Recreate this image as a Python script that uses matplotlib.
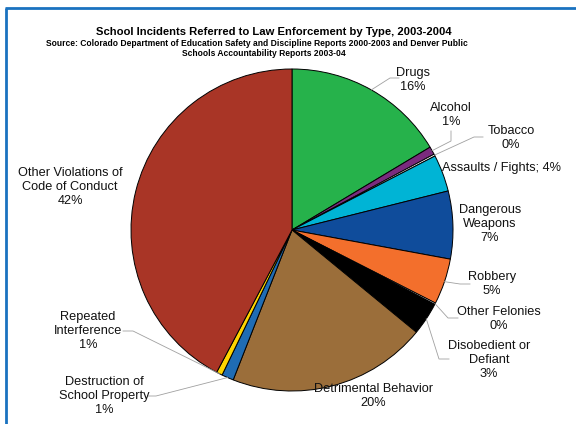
import numpy as np
import matplotlib
matplotlib.use('Agg')
import matplotlib.pyplot as plt

plt.rcParams['font.family'] = ['Liberation Sans', 'DejaVu Sans']

categories = ['Drugs', 'Alcohol', 'Tobacco', 'Assaults / Fights', 'Dangerous\nWeapons',
              'Robbery', 'Other Felonies', 'Disobedient or\nDefiant', 'Detrimental Behavior',
              'Destruction of\nSchool Property', 'Repeated\nInterference',
              'Other Violations of\nCode of Conduct']
shares = [16.4, 0.8, 0.2, 3.7, 6.8, 4.6, 0.15, 3.3, 20.0, 1.2, 0.6, 42.25]
colors = ['#26B24B', '#7A2B7E', '#FFFFFF', '#00B4D5', '#0F4C9B', '#F36F2C',
          '#FFFFFF', '#000000', '#9B6E3A', '#1F6CB4', '#FFD400', '#A93526']

W, H = 576, 424
fig = plt.figure(figsize=(W / 100, H / 100), dpi=100)
ax = fig.add_axes([0, 0, 1, 1])

cx, cy, r = 292, H - 230, 161
wedges, _ = ax.pie(shares, colors=colors, startangle=90, counterclock=False,
                   center=(cx, cy), radius=r, frame=True,
                   wedgeprops=dict(edgecolor='black', linewidth=0.7))
ax.set_xlim(0, W)
ax.set_ylim(0, H)
ax.set_aspect('equal')
ax.axis('off')

# label text centre, leader line (start, elbow; None = no leader), separator
layout = [
    ((413, 80), ((399, 78), (390, 78)), '\n'),
    ((451, 115), ((451, 131), (451, 141)), '\n'),
    ((511, 138), ((483, 137), (474, 137)), '\n'),
    ((502, 168), None, '; '),
    ((490, 224), None, '\n'),
    ((492, 284), ((470, 284), (460, 284)), '\n'),
    ((499, 319), ((458, 318), (448, 318)), '\n'),
    ((489, 360), ((449, 359), (439, 359)), '\n'),
    ((373, 396), None, '\n'),
    ((104, 396), ((148, 396), (156, 396)), '\n'),
    ((88, 331), ((123, 331), (133, 331)), '\n'),
    ((70, 187), None, '\n'),
]

for w, name, val, (pos, leader, sep) in zip(wedges, categories, shares, layout):
    label = f'{name}{sep}{round(val):.0f}%'
    tx, ty = pos
    ax.text(tx, H - ty, label, ha='center', va='center', fontsize=9.2,
            color='#111111', linespacing=1.18)
    if leader is not None:
        mid = np.deg2rad((w.theta1 + w.theta2) / 2)
        px, py = cx + r * np.cos(mid), cy + r * np.sin(mid)
        (sx, sy), (ex, ey) = leader
        ax.plot([sx, ex, px], [H - sy, H - ey, py], color='#A0A0A0', lw=0.6)

ax.text(274, H - 32, 'School Incidents Referred to Law Enforcement by Type, 2003-2004',
        ha='center', va='center', fontsize=8.1, fontweight='bold')
ax.text(257, H - 43, 'Source: Colorado Department of Education Safety and Discipline '
        'Reports 2000-2003 and Denver Public', ha='center', va='center',
        fontsize=6.15, fontweight='bold')
ax.text(264, H - 53, 'Schools Accountability Reports 2003-04', ha='center',
        va='center', fontsize=6.15, fontweight='bold')

# blue frame along top and left
ax.plot([5, W], [H - 8, H - 8], color='#1A72C0', lw=2, solid_capstyle='butt')
ax.plot([5.5, 5.5], [0, H - 8], color='#1A72C0', lw=2, solid_capstyle='butt')

fig.savefig('out.png', dpi=100)
